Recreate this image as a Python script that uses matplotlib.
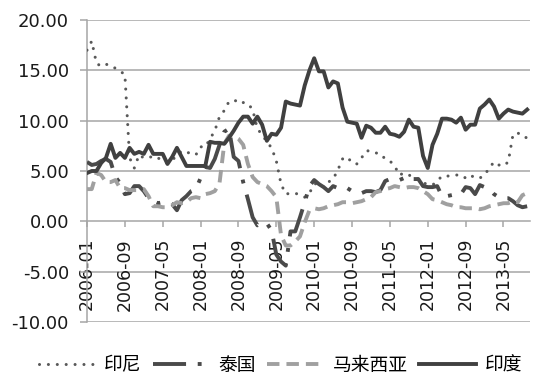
import matplotlib
matplotlib.use("Agg")
import matplotlib.pyplot as plt
import numpy as np

# monthly series, 2006-01 .. 2013-10
indonesia = [17.0, 17.9, 15.7, 15.4, 15.6, 15.5, 15.2, 14.9, 14.6, 6.3, 5.3, 6.6,
             6.3, 6.3, 6.5, 6.3, 6.0, 5.8, 6.1, 6.5, 7.0, 6.9, 6.7, 6.6,
             7.4, 7.4, 8.2, 9.0, 10.4, 11.0, 11.9, 11.9, 12.1, 11.8, 11.7, 11.1,
             9.2, 8.6, 7.9, 7.3, 6.0, 3.7, 2.7, 2.8, 2.8, 2.6, 2.4, 2.8,
             3.7, 3.8, 3.4, 3.9, 4.2, 5.1, 6.2, 6.4, 5.8, 5.7, 6.3, 7.0,
             7.0, 6.8, 6.7, 6.2, 6.0, 5.5, 4.6, 4.8, 4.6, 4.4, 4.2, 3.8,
             3.7, 3.6, 4.0, 4.5, 4.5, 4.5, 4.6, 4.6, 4.3, 4.6, 4.3, 4.3,
             4.6, 5.3, 5.9, 5.6, 5.5, 5.9, 8.6, 8.8, 8.4, 8.3]
thailand = [5.9, 5.6, 5.7, 6.0, 6.2, 5.9, 4.4, 3.8, 2.7, 2.8, 3.5, 3.5,
            3.0, 2.3, 2.0, 1.8, 1.9, 1.9, 1.7, 1.1, 2.1, 2.5, 3.0, 3.2,
            4.3, 5.4, 5.3, 6.2, 7.6, 8.9, 9.2, 6.4, 6.0, 3.9, 2.2, 0.4,
            -0.4, -0.1, -0.2, -0.9, -3.3, -4.0, -4.4, -1.0, -1.0, 0.4, 1.9, 3.5,
            4.1, 3.7, 3.4, 3.0, 3.5, 3.3, 3.4, 3.3, 3.0, 2.9, 2.8, 3.0,
            3.0, 2.9, 3.1, 4.0, 4.2, 4.1, 4.1, 4.3, 4.0, 4.2, 4.2, 3.5,
            3.4, 3.4, 3.5, 2.5, 2.5, 2.6, 2.7, 2.7, 3.4, 3.3, 2.7, 3.6,
            3.4, 3.2, 2.7, 2.4, 2.3, 2.3, 2.0, 1.6, 1.4, 1.5]
malaysia = [3.2, 3.2, 4.8, 4.6, 3.9, 3.9, 4.1, 3.3, 3.3, 3.1, 3.1, 3.1,
            3.2, 2.5, 1.5, 1.5, 1.4, 1.4, 1.6, 1.9, 1.8, 1.9, 2.3, 2.4,
            2.3, 2.7, 2.8, 3.0, 3.8, 7.7, 8.5, 8.5, 8.2, 7.6, 5.7, 4.4,
            3.9, 3.7, 3.5, 3.0, 2.4, -1.4, -2.4, -2.4, -2.0, -1.5, -0.1, 1.1,
            1.3, 1.2, 1.3, 1.5, 1.6, 1.7, 1.9, 1.9, 1.8, 1.9, 2.0, 2.2,
            2.4, 2.9, 3.0, 3.2, 3.3, 3.5, 3.4, 3.3, 3.4, 3.4, 3.3, 3.0,
            2.7, 2.2, 2.1, 1.9, 1.7, 1.6, 1.4, 1.4, 1.3, 1.3, 1.3, 1.2,
            1.3, 1.5, 1.6, 1.7, 1.8, 1.8, 2.0, 1.9, 2.6, 2.8]
india = [4.8, 5.0, 5.0, 5.8, 6.3, 7.7, 6.3, 6.8, 6.3, 7.3, 6.7, 6.9,
         6.7, 7.6, 6.7, 6.7, 6.7, 5.7, 6.4, 7.3, 6.4, 5.5, 5.5, 5.5,
         5.5, 5.5, 7.9, 7.8, 7.8, 7.7, 8.3, 9.0, 9.8, 10.4, 10.4, 9.7,
         10.4, 9.6, 8.0, 8.7, 8.6, 9.3, 11.9, 11.7, 11.6, 11.5, 13.5, 15.0,
         16.2, 14.9, 14.9, 13.3, 13.9, 13.7, 11.3, 9.9, 9.8, 9.7, 8.3, 9.5,
         9.3, 8.8, 8.8, 9.4, 8.7, 8.6, 8.4, 8.9, 10.1, 9.4, 9.3, 6.5,
         5.3, 7.6, 8.7, 10.2, 10.2, 10.1, 9.8, 10.3, 9.1, 9.6, 9.6, 11.2,
         11.6, 12.1, 11.4, 10.2, 10.7, 11.1, 10.9, 10.8, 10.7, 11.1]

tick_labels = ["2006-01", "2006-09", "2007-05", "2008-01", "2008-09", "2009-05",
               "2010-01", "2010-09", "2011-05", "2012-01", "2012-09", "2013-05"]
names = ["印尼", "泰国", "马来西亚", "印度"]
yticks = [-10, -5, 0, 5, 10, 15, 20]

months = np.arange(len(india))
tick_pos = [(int(s[:4]) - 2006) * 12 + int(s[5:]) - 1 for s in tick_labels]

plt.rcParams['font.family'] = ['DejaVu Sans', 'Noto Sans CJK SC']

fig = plt.figure(figsize=(5.5, 3.89), dpi=100)
ax = fig.add_axes([87/550, 1-322/389, (530-87)/550, (322-20)/389])

grid_c = '#a6a6a6'
for y in yticks:
    if y != 0:
        ax.axhline(y, color=grid_c, lw=1.1, zorder=1)

l1, = ax.plot(months, indonesia, color='#595959', lw=2.2,
              linestyle=(0, (0.01, 2.9)), dash_capstyle='round', label=names[0], zorder=3)
l2, = ax.plot(months, thailand, color='#4a4a4a', lw=2.8,
              linestyle=(0, (8.5, 3, 1, 3)), label=names[1], zorder=3)
l3, = ax.plot(months, malaysia, color='#a0a0a0', lw=2.8,
              linestyle=(0, (3.2, 1.8)), label=names[2], zorder=3)
l4, = ax.plot(months, india, color='#404040', lw=2.8,
              solid_joinstyle='round', label=names[3], zorder=4)

ax.set_xlim(0, 93.6)
ax.set_ylim(-10, 20)
ax.set_yticks(yticks)
ax.set_yticklabels([f"{v:.2f}" for v in yticks])
ax.set_xticks(tick_pos)
ax.set_xticklabels(tick_labels)

for s in ['top', 'right']:
    ax.spines[s].set_visible(False)
ax.spines['left'].set_color(grid_c)
ax.spines['left'].set_linewidth(1.1)
ax.spines['bottom'].set_position(('data', 0))
ax.spines['bottom'].set_color(grid_c)
ax.spines['bottom'].set_linewidth(1.1)

ax.tick_params(axis='y', direction='out', length=5, width=1.1, color=grid_c,
               labelsize=13, pad=8, labelcolor='#1a1a1a')
ax.tick_params(axis='x', direction='out', length=4, width=1.1, color=grid_c,
               labelsize=12.5, pad=8, labelcolor='#1a1a1a', labelrotation=90)
for t in ax.get_xticklabels():
    t.set_va('top')
    t.set_ha('center')
    t.set_rotation_mode('default')

leg = fig.legend(handles=[l1, l2, l3, l4], loc='center', ncol=4,
                 bbox_to_anchor=(0.51, 1-365/389), frameon=False,
                 prop={'family': ['Noto Sans CJK SC', 'DejaVu Sans'], 'size': 13.5},
                 handlelength=3.0, handletextpad=0.5, columnspacing=0.6,
                 borderpad=0.2)

fig.savefig("out.png", dpi=100)
